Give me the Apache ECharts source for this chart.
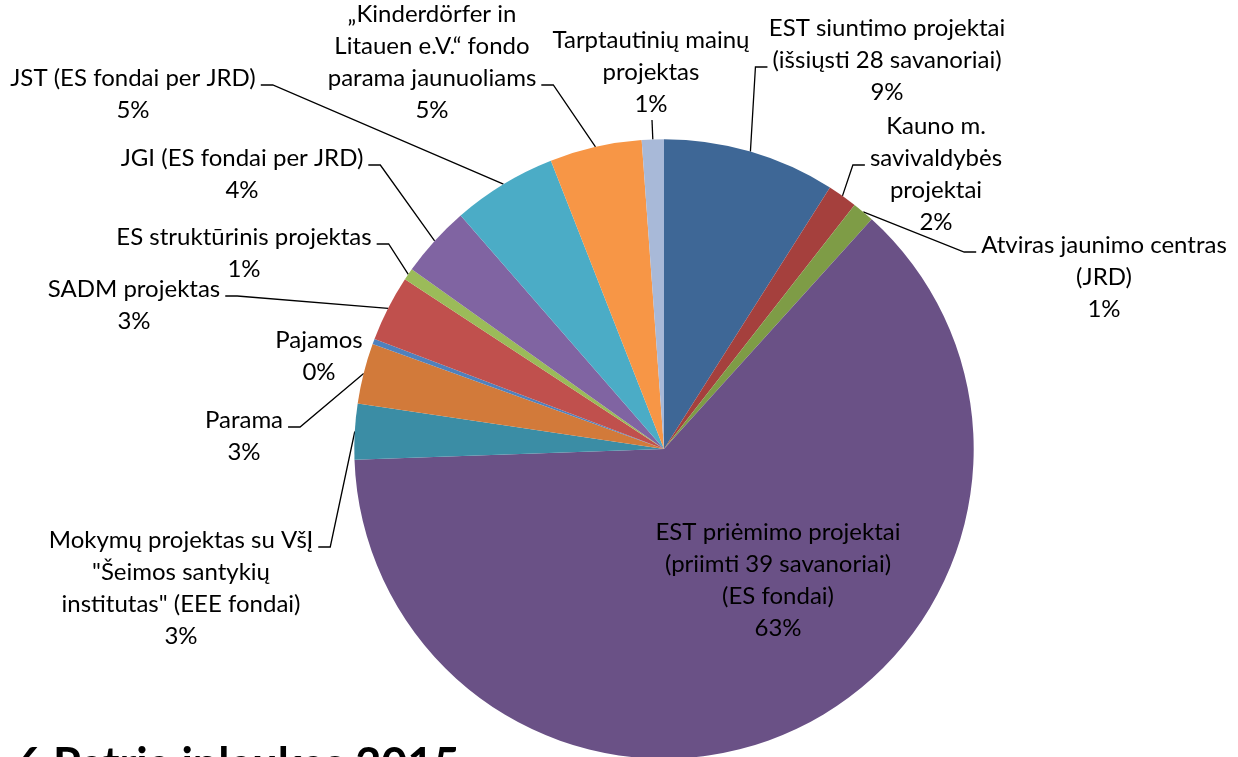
<!DOCTYPE html>
<html><head><meta charset="utf-8">
<script src="https://cdn.jsdelivr.net/npm/echarts@6/dist/echarts.min.js"></script>
<style>html,body{margin:0;padding:0;background:#fff}#c{width:1238px;height:757px}</style>
</head><body><div id="c"></div>
<script>
// ---- data ----
const categories = [
  'EST siuntimo projektai\n(išsiųsti 28 savanoriai)',
  'Kauno m.\nsavivaldybės\nprojektai',
  'Atviras jaunimo centras\n(JRD)',
  'EST priėmimo projektai\n(priimti 39 savanoriai)\n(ES fondai)',
  'Mokymų projektas su VšĮ\n"Šeimos santykių\ninstitutas" (EEE fondai)',
  'Parama',
  'Pajamos',
  'SADM projektas',
  'ES struktūrinis projektas',
  'JGI (ES fondai per JRD)',
  'JST (ES fondai per JRD)',
  '„Kinderdörfer in\nLitauen e.V.“ fondo\nparama jaunuoliams',
  'Tarptautinių mainų\nprojektas'
];
const values = [9.0, 1.55, 1.15, 62.75, 2.9, 3.15, 0.28, 3.45, 0.62, 3.75, 5.45, 4.8, 1.15];
const colors = ['#3E6796', '#A5403D', '#7E9C46', '#6A5186', '#3B8DA5', '#D27A3A', '#4F81BD',
                '#C0504D', '#9BBB59', '#8064A2', '#4BACC6', '#F79646', '#A8B9D8'];
const headingText = '6 Patria inlaukas 2015';

// ---- label layout (center x, first line center y, leader side, leader line index) ----
const labelPos = [
  {x: 887, y: 28, side: 'R', line: 1},
  {x: 936, y: 126, side: 'R', line: 1},
  {x: 1104, y: 245, side: 'R', line: 0},
  {x: 778, y: 532, side: 'I'},
  {x: 181, y: 540, side: 'L', line: 0},
  {x: 244, y: 420, side: 'L', line: 0},
  {x: 319, y: 340, side: 'N'},
  {x: 134, y: 289, side: 'L', line: 0},
  {x: 244, y: 237, side: 'L', line: 0},
  {x: 242, y: 158, side: 'L', line: 0},
  {x: 133, y: 78, side: 'L', line: 0},
  {x: 432, y: 14, side: 'L', line: 2},
  {x: 651, y: 40, side: 'B'}
];

const FONT = 'Lato', FS = 24, LH = 32;
const mctx = document.createElement('canvas').getContext('2d');
mctx.font = FS + 'px ' + FONT;
const lineW = s => mctx.measureText(s).width;

const total = values.reduce((a, b) => a + b, 0);
const labelText = i => categories[i] + '\n' + Math.round(values[i] / total * 100) + '%';

const data = categories.map((n, i) => ({
  name: n, value: values[i],
  itemStyle: {color: colors[i]},
  labelLine: {show: ['L', 'R', 'B'].includes(labelPos[i].side)}
}));

const chart = echarts.init(document.getElementById('c'), null, {renderer: 'canvas'});
chart.setOption({
  animation: false,
  series: [{
    type: 'pie',
    center: [664, 449],
    radius: 309.7,
    startAngle: 90,
    clockwise: true,
    avoidLabelOverlap: false,
    minShowLabelAngle: 0,
    emphasis: {disabled: true},
    data: data,
    label: {
      show: true, position: 'outside',
      formatter: p => labelText(p.dataIndex),
      fontFamily: FONT, fontSize: FS, lineHeight: LH, color: '#000', align: 'center'
    },
    labelLine: {show: true, length: 10, length2: 10, smooth: false, lineStyle: {color: '#000', width: 1.3}},
    labelLayout: function (p) {
      const i = p.dataIndex;
      const L = labelPos[i];
      const lines = labelText(i).split('\n');
      const top = L.y - LH / 2;
      const res = {x: L.x, y: top, align: 'center', verticalAlign: 'top'};
      const p0 = p.labelLinePoints && p.labelLinePoints[0];
      if (p0 && (L.side === 'L' || L.side === 'R')) {
        const w = lineW(lines[L.line]);
        const ay = top + (L.line + 0.5) * LH + 7;
        if (L.side === 'L') {
          const ax = L.x + w / 2 + 5;
          res.labelLinePoints = [p0, [ax + 12, ay], [ax, ay]];
        } else {
          const ax = L.x - w / 2 - 5;
          res.labelLinePoints = [p0, [ax - 12, ay], [ax, ay]];
        }
      } else if (p0 && L.side === 'B') {
        const by = top + lines.length * LH;
        res.labelLinePoints = [p0, [L.x + 1, by], [L.x + 1, by]];
      }
      return res;
    }
  }],
  graphic: [{
    type: 'text', left: 16, top: 743,
    style: {text: headingText, font: 'bold 45px Lato', fill: '#000'}
  }]
});
</script>
</body></html>
